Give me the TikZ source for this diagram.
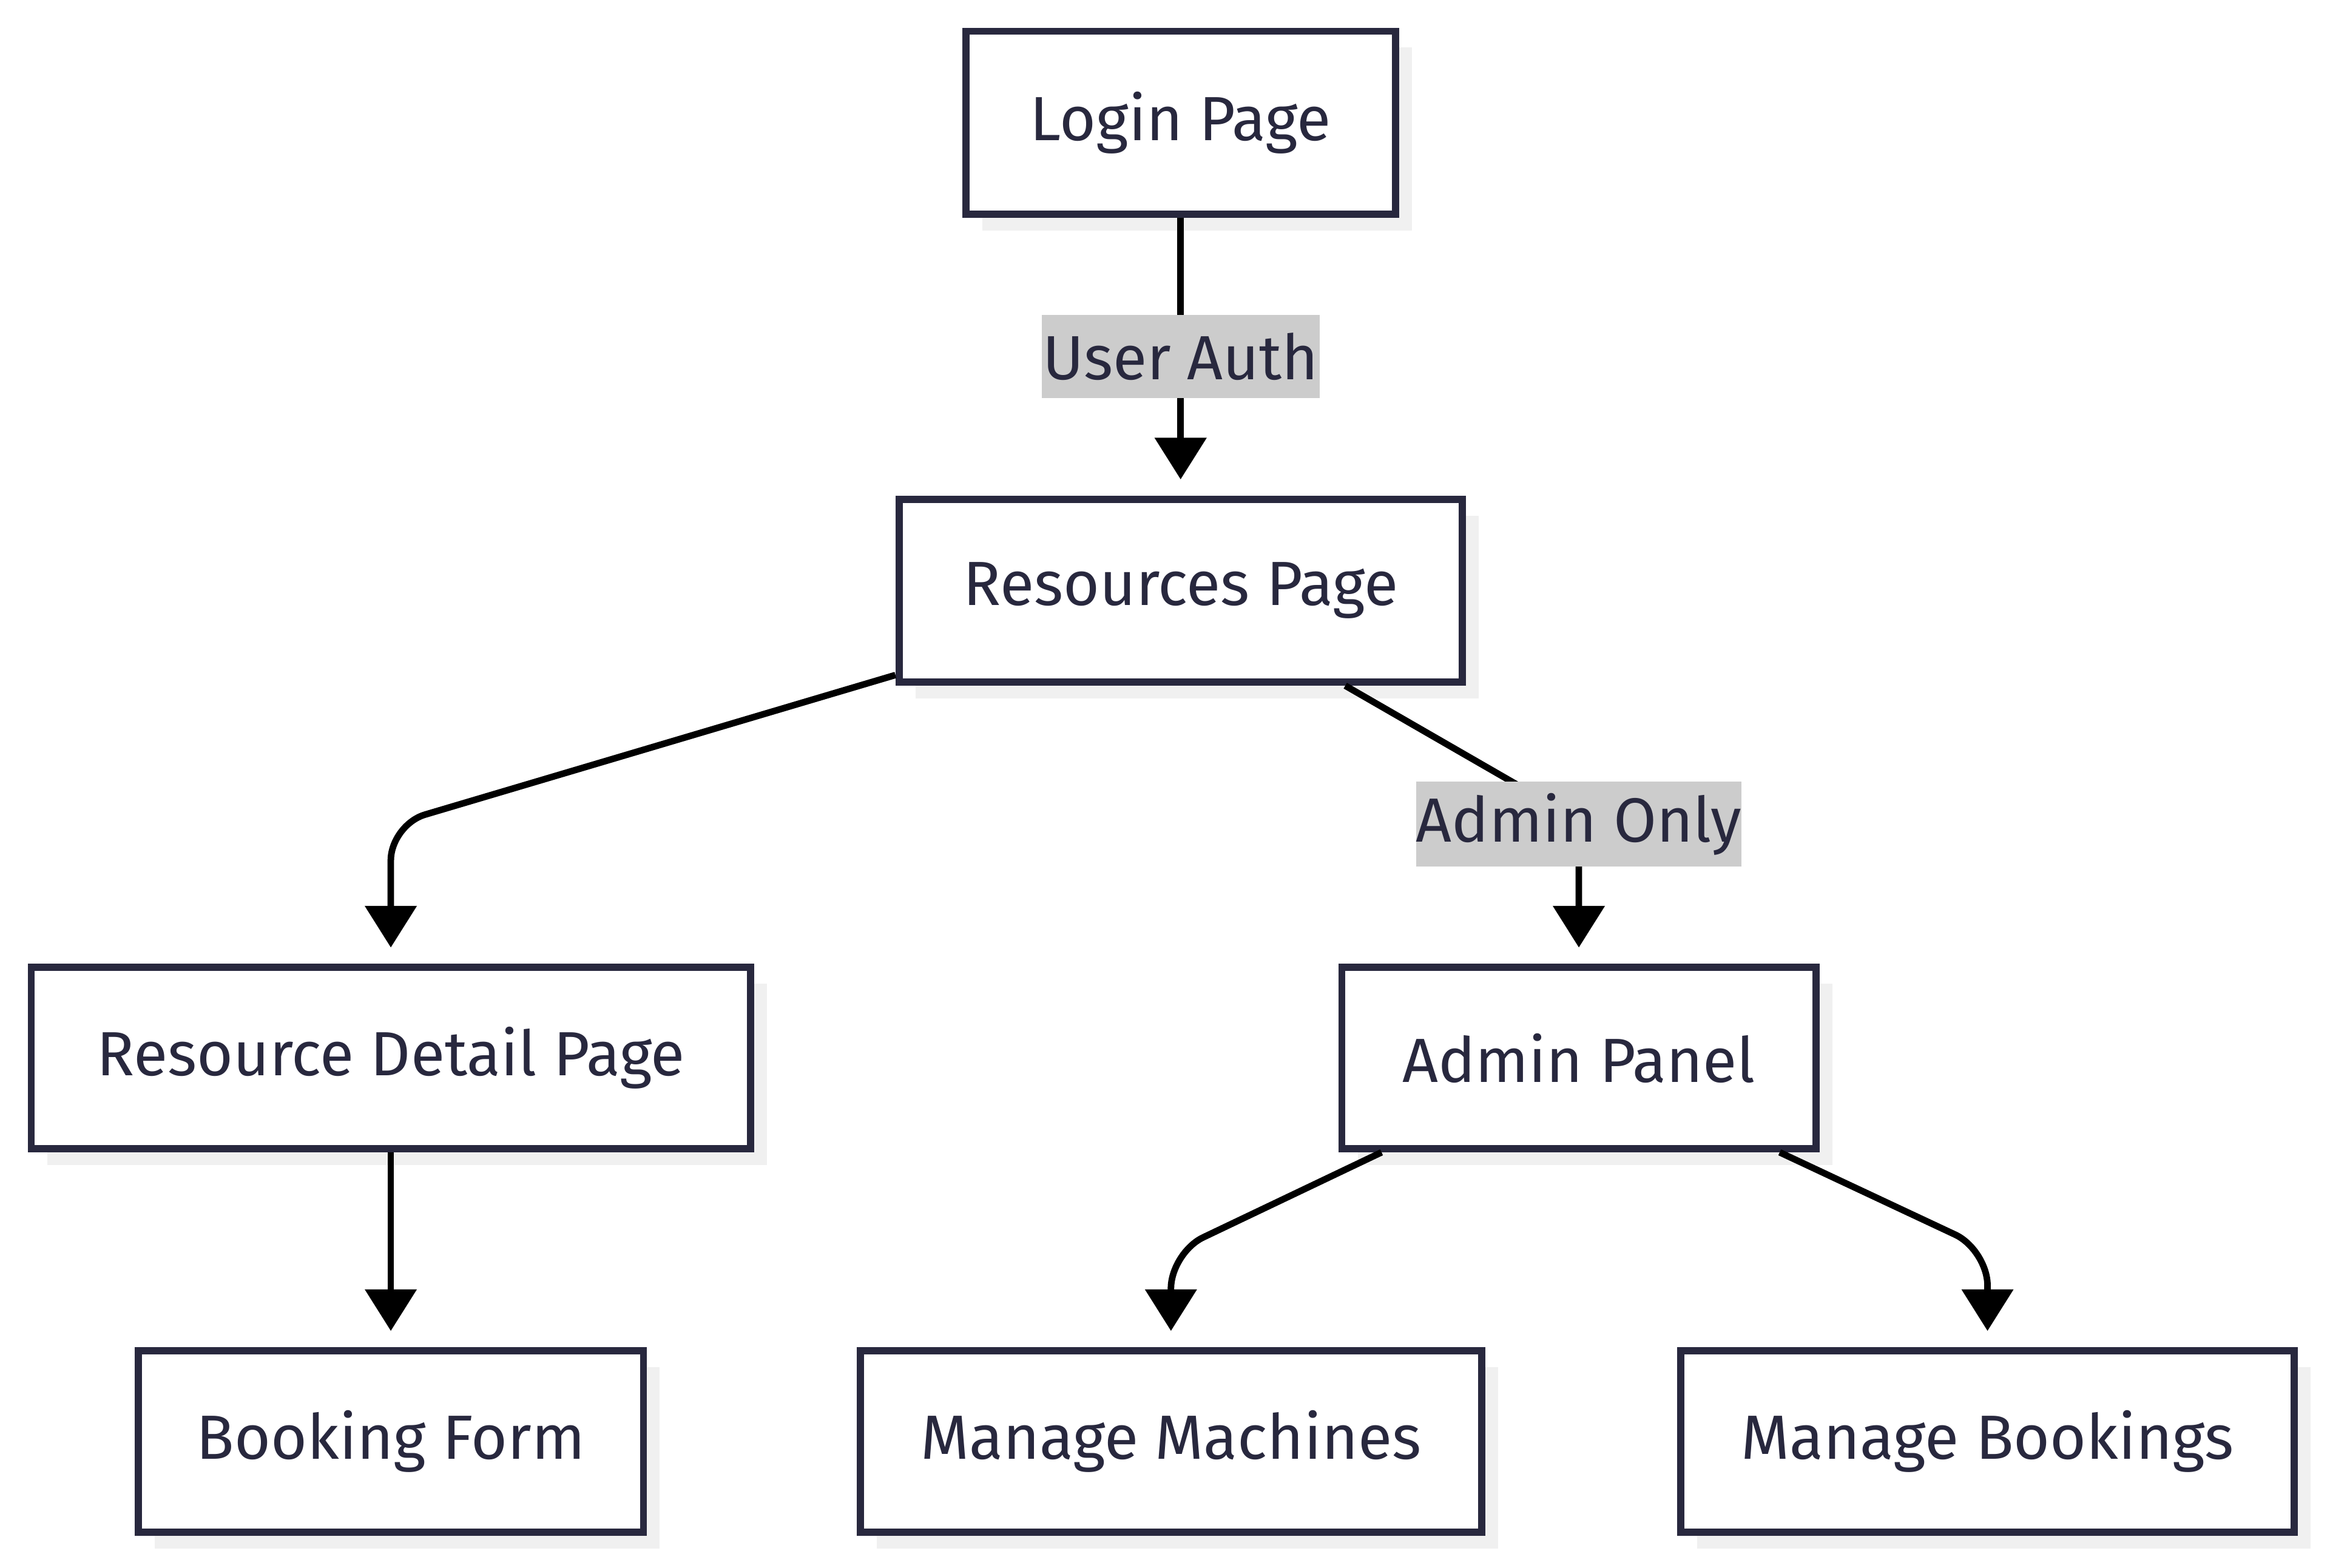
\documentclass[tikz,border=0pt]{standalone}
\usepackage{fontspec}
\setmainfont{Fira Sans}
\usetikzlibrary{arrows.meta,shadows}
\definecolor{ink}{RGB}{40,40,62}
\definecolor{shade}{RGB}{240,240,240}
\definecolor{lbl}{RGB}{204,204,204}
\begin{document}
\begin{tikzpicture}[x=0.5pt,y=-0.5pt,
  box/.style={draw=ink, line width=2.4pt, fill=white, text=ink, font=\fontsize{21}{25}\selectfont,
    inner sep=0pt, general shadow={fill=shade, shadow xshift=5.5pt, shadow yshift=-5.5pt}},
  elabel/.style={fill=lbl, text=ink, font=\fontsize{21}{25}\selectfont, inner sep=0pt},
  conn/.style={draw=black, line width=2.2pt, rounded corners=12pt,
    -{Triangle[length=14pt,width=17pt]}, shorten >=5.5pt}]
\useasboundingbox (0,0) rectangle (1568,1055);
\node[box, minimum width=144.5pt, minimum height=61.5pt] (login) at (794.5,82.5) {Login Page};
\node[box, minimum width=189.5pt, minimum height=61.5pt] (res) at (794.5,397.5) {Resources Page};
\node[box, minimum width=242pt, minimum height=61pt] (det) at (263,712) {Resource Detail Page};
\node[box, minimum width=159.5pt, minimum height=61pt] (adm) at (1062.5,712) {Admin Panel};
\node[box, minimum width=170pt, minimum height=61pt] (book) at (263,970) {Booking Form};
\node[box, minimum width=209pt, minimum height=61pt] (mach) at (788,970) {Manage Machines};
\node[box, minimum width=206.5pt, minimum height=61pt] (mbook) at (1337.5,970) {Manage Bookings};

\coordinate (c1) at (263,555);
\coordinate (c2) at (1062.5,552);
\coordinate (c3) at (788,843);
\coordinate (c4) at (1337.5,841);

\draw[conn] (login) -- (res);
\draw[conn] (res) -- (c1) -- (det.north);
\draw[conn] (res) -- (c2) -- (adm.north);
\draw[conn] (det) -- (book);
\draw[conn] (adm) -- (c3) -- (mach.north);
\draw[conn] (adm) -- (c4) -- (mbook.north);

\node[elabel, minimum width=93.5pt, minimum height=28pt] (l1) at (794.5,240) {User Auth};
\node[elabel, minimum width=105.5pt, minimum height=28.5pt] (l2) at (1062.5,554.5) {Admin Only};
\end{tikzpicture}
\end{document}
